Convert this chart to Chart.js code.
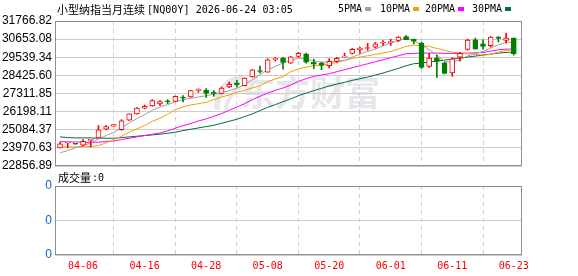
<!DOCTYPE html>
<html>
<head>
<meta charset="utf-8">
<script src="https://cdn.jsdelivr.net/npm/chart.js@4.4.1/dist/chart.umd.min.js"></script>
<style>
  html, body { margin: 0; padding: 0; background: #fff; }
  #wrap { position: relative; width: 578px; height: 276px; overflow: hidden; }
  #priceChart { position: absolute; left: 0; top: 0; }
  #volChart { position: absolute; left: 0; top: 172px; }
</style>
</head>
<body>
<div id="wrap">
  <canvas id="priceChart" width="578" height="172"></canvas>
  <canvas id="volChart" width="578" height="104"></canvas>
</div>
<script>
const dates = ['04-01','04-02','04-03','04-06','04-07','04-08','04-09','04-10','04-13','04-14',
  '04-15','04-16','04-17','04-20','04-21','04-22','04-23','04-24','04-27','04-28',
  '04-29','04-30','05-01','05-04','05-05','05-06','05-07','05-08','05-11','05-12',
  '05-13','05-14','05-15','05-18','05-19','05-20','05-21','05-22','05-25','05-26',
  '05-27','05-28','05-29','06-01','06-02','06-03','06-04','06-05','06-08','06-09',
  '06-10','06-11','06-12','06-15','06-16','06-17','06-18','06-19','06-22','06-23'];

const opens = [23971,24270,24225,24134,24435,24584,25115,25299,25095,25667,
  26055,26403,26546,26668,26820,26832,27045,27097,27500,27506,
  27330,27322,27710,27960,27792,28323,28680,28630,29410,29468,
  29182,29590,29733,29223,29182,29018,29284,29545,29774,29999,
  30075,30163,30400,30440,30571,30817,30653,30408,28977,29488,
  29202,28569,29550,30020,30612,30367,30244,30776,30571,30714];
const highs = [24318,24285,24236,24482,24450,25340,25340,25420,25708,26070,
  26440,26607,26934,26873,26934,27160,27179,27500,27608,27608,
  27486,27710,28017,28119,28280,28790,28998,29447,29529,29529,
  29590,29836,29795,29427,29223,29447,29529,29795,30081,30142,
  30387,30449,30571,30653,30817,30878,30653,30469,29774,29652,
  29243,29509,29836,30653,30714,30612,30817,30817,31021,30735];
const lows = [23971,23971,24196,24073,24032,24584,25074,25290,25054,25650,
  26040,26362,26525,26566,26689,26810,26791,27080,27384,27077,
  27138,27281,27670,27731,27780,28310,28569,28610,29304,28814,
  29160,29529,29182,28834,28773,28875,29223,29545,29733,29795,
  29958,30101,30265,30265,30490,30612,30367,28855,28916,28303,
  28507,28364,29304,29979,30040,30040,30163,30469,30408,29672];
const closes = [24216,24277,24205,24380,24441,25074,25279,25401,25626,26055,
  26423,26525,26873,26811,26800,27138,27030,27486,27510,27322,
  27315,27649,27874,27850,28262,28773,28665,29386,29440,29223,
  29570,29774,29243,29120,29039,29284,29468,29550,30020,30101,
  30081,30367,30408,30449,30776,30612,30530,28916,29488,29284,
  28548,29447,29774,30592,30040,30204,30776,30694,30714,29754];

const ma5 = [23664,23807,23971,24114,24277,24523,24727,24931,25197,25503,
  25769,26014,26280,26484,26627,26811,26934,27016,27097,27179,
  27261,27343,27486,27649,27854,28160,28467,28773,28977,29182,
  29366,29468,29427,29325,29243,29223,29304,29345,29550,29734,
  29897,30040,30244,30408,30571,30714,30551,30306,29999,29693,
  29284,29223,29386,29631,29754,29897,30101,30306,30449,30490];
const ma10 = [24032,24032,24032,24032,24053,24114,24277,24482,24686,24931,
  25136,25340,25606,25790,26035,26321,26484,26607,26689,26770,
  26934,27097,27220,27384,27506,27649,27792,28037,28201,28364,
  28650,28814,28937,29018,29059,29120,29223,29345,29468,29550,
  29631,29713,29795,29897,30040,30204,30285,30265,30204,30081,
  29958,29856,29795,29754,29713,29672,29713,29856,29958,29999];
const ma20 = [24359,24339,24339,24318,24318,24318,24359,24400,24482,24563,
  24645,24727,24809,24890,25013,25177,25340,25463,25626,25749,
  25912,26076,26280,26484,26689,26934,27138,27343,27506,27649,
  27833,28058,28221,28364,28446,28528,28650,28773,28896,29018,
  29141,29263,29386,29509,29631,29754,29774,29795,29795,29795,
  29774,29774,29774,29795,29815,29836,29917,29999,30040,30040];
const ma30 = [24645,24604,24584,24584,24584,24563,24563,24563,24604,24645,
  24686,24727,24768,24809,24870,24931,25033,25115,25197,25279,
  25360,25483,25606,25728,25892,26055,26260,26464,26627,26811,
  26975,27179,27343,27486,27629,27772,27894,27997,28119,28221,
  28324,28446,28569,28712,28855,29018,29141,29182,29243,29304,
  29366,29427,29488,29550,29611,29672,29734,29795,29836,29856];
const volumes = [0,0,0,0,0,0,0,0,0,0, 0,0,0,0,0,0,0,0,0,0, 0,0,0,0,0,0,0,0,0,0,
  0,0,0,0,0,0,0,0,0,0, 0,0,0,0,0,0,0,0,0,0, 0,0,0,0,0,0,0,0,0,0];

const priceTicks = [22856.89, 23970.63, 25084.37, 26198.11, 27311.85, 28425.60, 29539.34, 30653.08, 31766.82];
const volTicks = [0, 1, 2, 3, 4];
const volTickLabels = ['0', '0', '0', '0', '0'];
const xTickIdx = [3, 11, 19, 27, 35, 43, 51, 59];

const titleName = '小型纳指当月连续';
const titleCode = '[NQ00Y] 2026-06-24 03:05';
const volCaption = '成交量';
const volCaptionValue = ':0';
const maLabels = ['5PMA', '10PMA', '20PMA', '30PMA'];
const watermark = '东方财富';

const UP = '#ff0000', DOWN = '#008000';
const MA_COLORS = ['#a0a0a0', '#f5a000', '#ff00ff', '#006f3a'];
const MONO = '"DejaVu Sans Mono", "Liberation Mono", monospace';
const CJK = '"Noto Sans CJK SC", sans-serif';
const X_MIN = -0.65, X_MAX = 60.07;

const idx = dates.map((_, i) => i);
const isUp = idx.map(i => closes[i] >= opens[i]);
const candleColors = idx.map(i => isUp[i] ? UP : DOWN);

// monospace ascii drawn squeezed to a fixed cell width
function fitText(c, text, x, y, font, color, charW) {
  c.save();
  c.font = font;
  c.fillStyle = color;
  c.textBaseline = 'middle';
  c.textAlign = 'left';
  const w = c.measureText(text).width || 1;
  c.translate(x, y);
  c.scale((charW * text.length) / w, 1);
  c.fillText(text, 0, 0);
  c.restore();
}

const xTicksHook = s => { s.ticks = xTickIdx.map(v => ({ value: v })); };

const maSets = [ma5, ma10, ma20, ma30].map((arr, k) => ({
  type: 'line',
  label: maLabels[k],
  data: idx.map(i => ({ x: i, y: arr[i] })),
  borderColor: MA_COLORS[k],
  borderWidth: 1,
  pointRadius: 0,
  fill: false,
  tension: 0
}));

new Chart(document.getElementById('priceChart'), {
  type: 'bar',
  data: {
    datasets: [
      {
        label: 'body',
        data: idx.map(i => ({ x: i, y: [opens[i], closes[i]] })),
        backgroundColor: idx.map(i => isUp[i] ? '#ffffff' : DOWN),
        borderColor: candleColors,
        borderWidth: 1,
        borderSkipped: false,
        barThickness: 5,
        minBarLength: 1,
        grouped: false
      },
      {
        label: 'wick',
        data: idx.map(i => ({ x: i, y: [lows[i], highs[i]] })),
        backgroundColor: candleColors,
        borderWidth: 0,
        barThickness: 1,
        grouped: false
      },
      ...maSets
    ]
  },
  options: {
    responsive: false,
    animation: false,
    devicePixelRatio: 1,
    layout: { padding: { top: 21, right: 56, bottom: 6, left: 0 } },
    plugins: { legend: { display: false }, tooltip: { enabled: false } },
    scales: {
      x: {
        type: 'linear', min: X_MIN, max: X_MAX, offset: false,
        afterBuildTicks: xTicksHook,
        afterFit: s => { s.height = 0; s.paddingLeft = 0; s.paddingRight = 0; },
        ticks: { display: false },
        grid: { color: '#d0d0d0', drawTicks: false },
        border: { display: false, dash: [4, 4] }
      },
      y: {
        min: priceTicks[0], max: priceTicks[priceTicks.length - 1],
        afterBuildTicks: s => { s.ticks = priceTicks.map(v => ({ value: v })); },
        afterFit: s => { s.width = 55; s.paddingTop = 0; s.paddingBottom = 0; },
        ticks: {
          padding: 3, color: '#000',
          font: { family: '"Liberation Sans", Arial, sans-serif', size: 12 },
          callback: v => v.toFixed(2)
        },
        grid: { color: '#cccccc', drawTicks: false },
        border: { display: false }
      }
    }
  },
  plugins: [{
    id: 'priceDecor',
    beforeDraw(chart) {
      const c = chart.ctx;
      c.save();
      c.fillStyle = '#e6e6ec';
      c.strokeStyle = '#e6e6ec';
      // swoosh of the watermark logo
      c.lineWidth = 6;
      c.lineCap = 'round';
      c.beginPath();
      c.moveTo(217, 107);
      c.quadraticCurveTo(218, 84, 240, 77);
      c.stroke();
      c.lineWidth = 4;
      c.beginPath();
      c.moveTo(226, 108);
      c.quadraticCurveTo(230, 92, 240, 88);
      c.stroke();
      c.font = 'bold 35px ' + CJK;
      c.textBaseline = 'middle';
      c.fillText(watermark, 240, 93);
      c.restore();
    },
    afterDraw(chart) {
      const c = chart.ctx;
      const a = chart.chartArea;
      c.save();
      c.strokeStyle = '#909090';
      c.lineWidth = 1;
      c.strokeRect(a.left + 0.5, a.top + 0.5, a.right - a.left - 1, a.bottom - a.top - 1);
      c.fillStyle = '#000';
      c.font = '11px ' + CJK;
      c.textBaseline = 'middle';
      c.fillText(titleName, 57, 10);
      c.restore();
      fitText(c, titleCode, 147, 10, '11px ' + MONO, '#000', 6.08);
      const legendX = [338, 380, 425, 472];
      maLabels.forEach((lab, k) => {
        fitText(c, lab, legendX[k], 9, '11px ' + MONO, '#000', 6);
        c.fillStyle = MA_COLORS[k];
        c.fillRect(legendX[k] + lab.length * 6 + 3, 7, 6, 4);
      });
    }
  }]
});

new Chart(document.getElementById('volChart'), {
  type: 'bar',
  data: {
    datasets: [{
      label: 'volume',
      data: idx.map(i => ({ x: i, y: volumes[i] })),
      backgroundColor: candleColors,
      barThickness: 5,
      grouped: false
    }]
  },
  options: {
    responsive: false,
    animation: false,
    devicePixelRatio: 1,
    layout: { padding: { top: 14, right: 56, bottom: 0, left: 0 } },
    plugins: { legend: { display: false }, tooltip: { enabled: false } },
    scales: {
      x: {
        type: 'linear', min: X_MIN, max: X_MAX, offset: false,
        afterBuildTicks: xTicksHook,
        afterFit: s => { s.height = 21; s.paddingLeft = 0; s.paddingRight = 0; },
        ticks: {
          color: '#ff0000', padding: 5, maxRotation: 0, autoSkip: false,
          font: { family: MONO, size: 10 },
          callback: v => dates[v]
        },
        grid: { color: '#d0d0d0', drawTicks: false },
        border: { display: false, dash: [4, 4] }
      },
      y: {
        min: volTicks[0], max: volTicks[volTicks.length - 1],
        afterBuildTicks: s => { s.ticks = volTicks.map(v => ({ value: v })); },
        afterFit: s => { s.width = 55; s.paddingTop = 0; s.paddingBottom = 0; },
        ticks: {
          padding: 3, color: '#1560bd',
          font: { family: '"Liberation Sans", Arial, sans-serif', size: 12 },
          callback: (v, i) => volTickLabels[i]
        },
        grid: { color: '#cccccc', drawTicks: false },
        border: { display: false }
      }
    }
  },
  plugins: [{
    id: 'volDecor',
    afterDraw(chart) {
      const c = chart.ctx;
      const a = chart.chartArea;
      c.save();
      c.strokeStyle = '#909090';
      c.lineWidth = 1;
      c.strokeRect(a.left + 0.5, a.top + 0.5, a.right - a.left - 1, a.bottom - a.top - 1);
      c.fillStyle = '#000';
      c.font = '11px ' + CJK;
      c.textBaseline = 'middle';
      c.fillText(volCaption, 58, 6);
      c.restore();
      fitText(c, volCaptionValue, 92, 6, '11px ' + MONO, '#000', 6);
    }
  }]
});
</script>
</body>
</html>
